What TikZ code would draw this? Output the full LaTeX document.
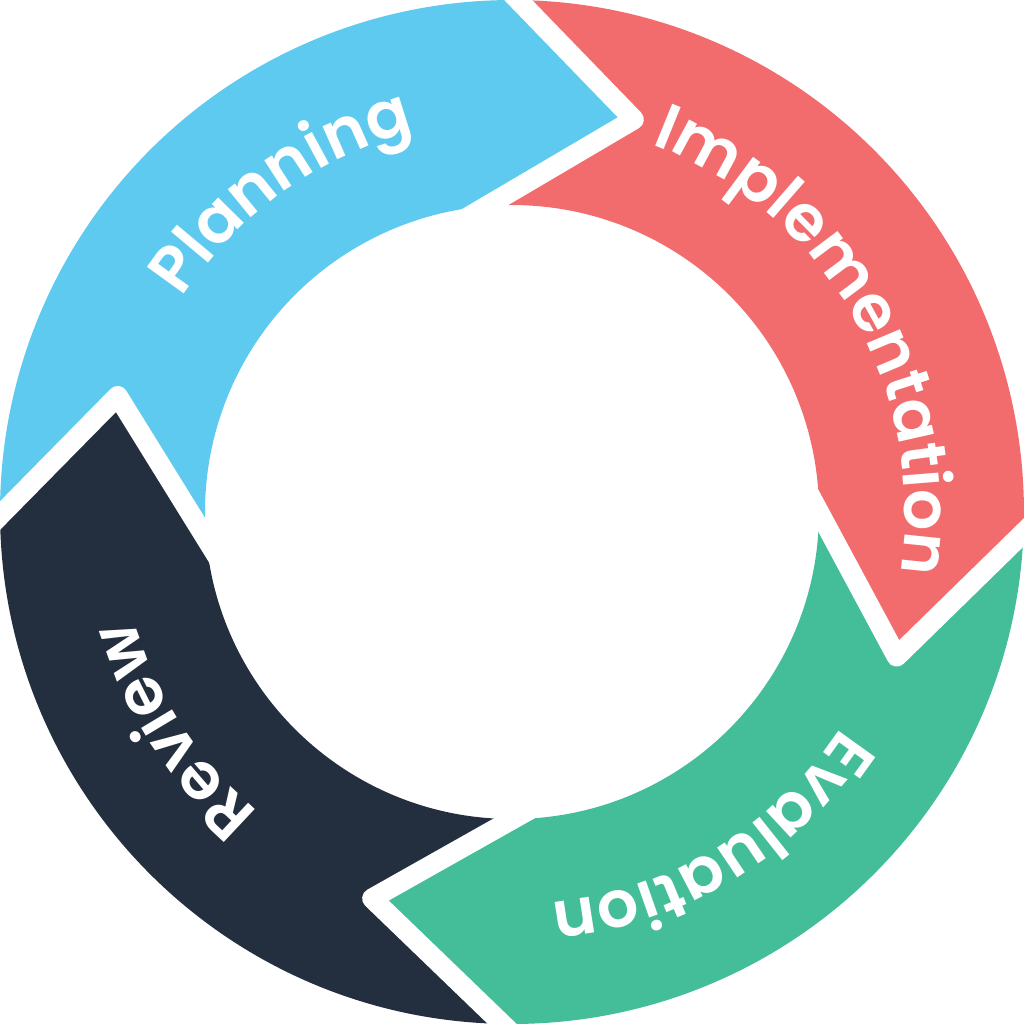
\documentclass[tikz,border=0pt]{standalone}
\usepackage{fontspec}
\setmainfont{Poppins}[BoldFont={Poppins SemiBold}]
\usetikzlibrary{decorations.text,calc}
\definecolor{planblue}{HTML}{5FCAEF}
\definecolor{implred}{HTML}{F26B6D}
\definecolor{evalgreen}{HTML}{44BE99}
\definecolor{revnavy}{HTML}{232F3F}
\begin{document}
\begin{tikzpicture}%
  \tikzstyle{sepn}=[draw=white,line width=2mm,line join=round]
  \tikzstyle{labn}=[decorate,decoration={text along path,text align=center,text color=white}]
  \useasboundingbox (-5.12,-5.12) rectangle (5.12,5.12);
  % segments: colour / tail outer, inner, tip / head outer, inner, tip
  \foreach \col/\to/\ti/\tt/\ho/\hi/\ht in {
      planblue/180.4/185/163.6/89.3/94.7/72.75,
      implred/89.3/94.7/72.75/-2.3/0/-20.6,
      evalgreen/-2.3/0/-20.6/-91.1/-89.8/-109.9,
      revnavy/-91.1/-89.8/-109.9/-179.6/-175/-196.4}
    \fill[\col] (\to:5.12) arc[start angle=\to,end angle=\ho,radius=5.12]
      -- (\ht:4.11) -- (\hi:3.07) arc[start angle=\hi,end angle=\ti,radius=3.07]
      -- (\tt:4.11) -- cycle;
  % white gaps between the arrows
  \foreach \o/\i/\t in {89.3/94.7/72.75, -2.3/0/-20.6, -91.1/-89.8/-109.9, 180.4/185/163.6}
    \draw[sepn] ($(\t:4.11)!1.25!(\o:5.12)$) -- (\t:4.11) -- ($(\t:4.11)!1.25!(\i:3.07)$);
  % labels
  \foreach \c/\word in {125.7/Planning, 30.1/Implementation, -58.7/Evaluation, 212.8/Review}
    \path[labn,decoration={text={|\fontsize{18.5}{18.5}\selectfont\bfseries|\word}}]
      (\c+65:3.93) arc[start angle=\c+65,end angle=\c-65,radius=3.93];
\end{tikzpicture}
\end{document}
